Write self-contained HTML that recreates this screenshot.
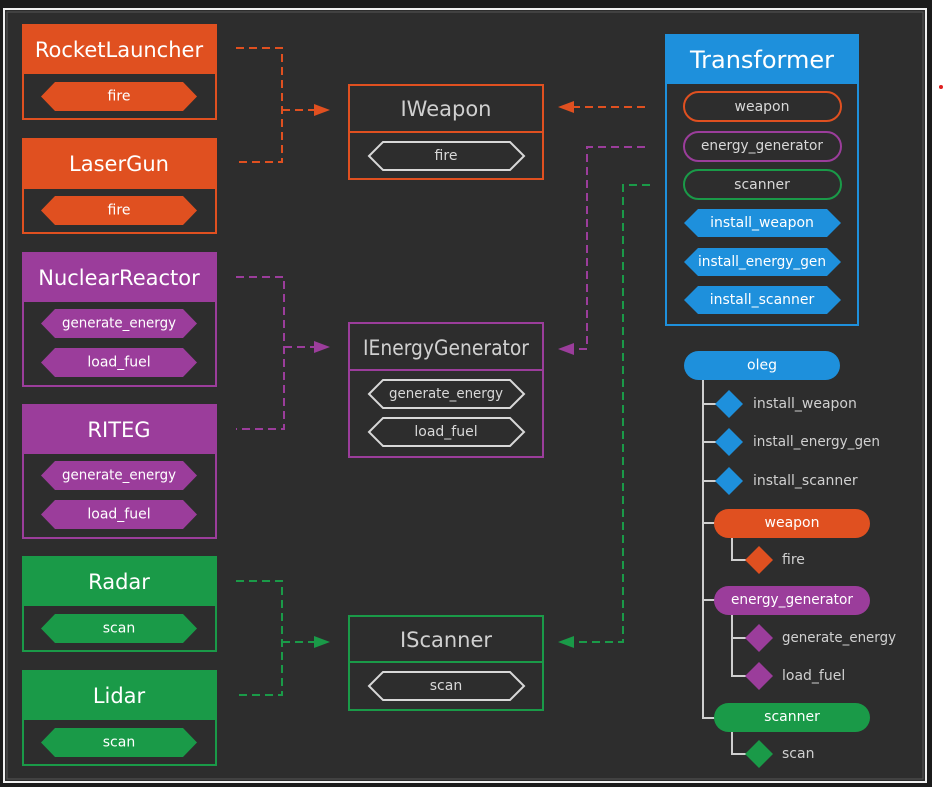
<!DOCTYPE html>
<html><head><meta charset="utf-8"><style>
html,body{margin:0;padding:0;background:#1b1b1b;width:944px;height:787px;overflow:hidden}
svg{display:block}
text{font-family:"DejaVu Sans","Liberation Sans",sans-serif;text-anchor:middle;dominant-baseline:central}
.s{text-anchor:start}
</style></head><body>
<svg width="944" height="787" viewBox="0 0 944 787" xmlns="http://www.w3.org/2000/svg">
<rect x="0" y="0" width="944" height="787" fill="#1b1b1b"/>
<rect x="932" y="0" width="12" height="787" fill="#ffffff"/>
<circle cx="941" cy="87" r="2" fill="#e02020"/>
<rect x="4" y="9" width="922" height="773" fill="#2d2d2d" stroke="#f0f0f0" stroke-width="2"/>
<rect x="7" y="12" width="916" height="767" fill="none" stroke="#555" stroke-width="1"/>

<g fill="none" stroke-width="2" stroke-dasharray="8,5">
<path d="M236 48 H282 V162 H236 M282 110 H318" stroke="#e05020"/>
<path d="M236 277 H284 V429 H236 M284 347 H318" stroke="#9b3d9b"/>
<path d="M236 581 H282 V695 H236 M282 642 H318" stroke="#1a9a48"/>
<path d="M645 107 H572" stroke="#e05020"/>
<path d="M645 147 H587 V349 H572" stroke="#9b3d9b"/>
<path d="M650 185 H623 V642 H572" stroke="#1a9a48"/>
</g>
<polygon points="330,110 314,104 314,116" fill="#e05020"/>
<polygon points="330,347 314,341 314,353" fill="#9b3d9b"/>
<polygon points="330,642 314,636 314,648" fill="#1a9a48"/>
<polygon points="558,107 574,101 574,113" fill="#e05020"/>
<polygon points="558,349 574,343 574,355" fill="#9b3d9b"/>
<polygon points="558,642 574,636 574,648" fill="#1a9a48"/>

<g font-size="21">
<rect x="23" y="25" width="193" height="94" fill="#2d2d2d" stroke="#e05020" stroke-width="2"/>
<rect x="23" y="25" width="193" height="49" fill="#e05020"/>
<text x="119" y="50" fill="#fff">RocketLauncher</text>
<polygon points="41,96.5 55,82 183,82 197,96.5 183,111 55,111" fill="#e05020"/>
<text x="119" y="96.5" font-size="14" fill="#fff">fire</text>
<rect x="23" y="139" width="193" height="94" fill="#2d2d2d" stroke="#e05020" stroke-width="2"/>
<rect x="23" y="139" width="193" height="50" fill="#e05020"/>
<text x="119" y="164" fill="#fff">LaserGun</text>
<polygon points="41,210.5 55,196 183,196 197,210.5 183,225 55,225" fill="#e05020"/>
<text x="119" y="210.5" font-size="14" fill="#fff">fire</text>
<rect x="23" y="253" width="193" height="133" fill="#2d2d2d" stroke="#9b3d9b" stroke-width="2"/>
<rect x="23" y="253" width="193" height="49" fill="#9b3d9b"/>
<text x="119" y="278" fill="#fff">NuclearReactor</text>
<polygon points="41,323.5 55,309 183,309 197,323.5 183,338 55,338" fill="#9b3d9b"/>
<text x="119" y="323.5" font-size="14" fill="#fff" textLength="114" lengthAdjust="spacingAndGlyphs">generate_energy</text>
<polygon points="41,362.5 55,348 183,348 197,362.5 183,377 55,377" fill="#9b3d9b"/>
<text x="119" y="362.5" font-size="14" fill="#fff">load_fuel</text>
<rect x="23" y="405" width="193" height="133" fill="#2d2d2d" stroke="#9b3d9b" stroke-width="2"/>
<rect x="23" y="405" width="193" height="49" fill="#9b3d9b"/>
<text x="119" y="430" fill="#fff">RITEG</text>
<polygon points="41,475.5 55,461 183,461 197,475.5 183,490 55,490" fill="#9b3d9b"/>
<text x="119" y="475.5" font-size="14" fill="#fff" textLength="114" lengthAdjust="spacingAndGlyphs">generate_energy</text>
<polygon points="41,514.5 55,500 183,500 197,514.5 183,529 55,529" fill="#9b3d9b"/>
<text x="119" y="514.5" font-size="14" fill="#fff">load_fuel</text>
<rect x="23" y="557" width="193" height="94" fill="#2d2d2d" stroke="#1a9a48" stroke-width="2"/>
<rect x="23" y="557" width="193" height="49" fill="#1a9a48"/>
<text x="119" y="582" fill="#fff">Radar</text>
<polygon points="41,628.5 55,614 183,614 197,628.5 183,643 55,643" fill="#1a9a48"/>
<text x="119" y="628.5" font-size="14" fill="#fff">scan</text>
<rect x="23" y="671" width="193" height="94" fill="#2d2d2d" stroke="#1a9a48" stroke-width="2"/>
<rect x="23" y="671" width="193" height="49" fill="#1a9a48"/>
<text x="119" y="696" fill="#fff">Lidar</text>
<polygon points="41,742.5 55,728 183,728 197,742.5 183,757 55,757" fill="#1a9a48"/>
<text x="119" y="742.5" font-size="14" fill="#fff">scan</text>
</g>

<g font-size="21" fill="none">
<rect x="349" y="85" width="194" height="94" stroke="#e05020" stroke-width="2"/>
<line x1="349" y1="132" x2="543" y2="132" stroke="#e05020" stroke-width="2"/>
<text x="446" y="109" fill="#d0d0d0" stroke="none">IWeapon</text>
<polygon points="369,156 383,142 510,142 524,156 510,170 383,170" stroke="#d8d8d8" stroke-width="2"/>
<text x="446" y="156" font-size="14" fill="#d8d8d8" stroke="none">fire</text>

<rect x="349" y="323" width="194" height="134" stroke="#9b3d9b" stroke-width="2"/>
<line x1="349" y1="370" x2="543" y2="370" stroke="#9b3d9b" stroke-width="2"/>
<text x="446" y="348" fill="#d0d0d0" stroke="none" textLength="166" lengthAdjust="spacingAndGlyphs">IEnergyGenerator</text>
<polygon points="369,394 383,380 510,380 524,394 510,408 383,408" stroke="#d8d8d8" stroke-width="2"/>
<text x="446" y="394" font-size="14" fill="#d8d8d8" stroke="none" textLength="114" lengthAdjust="spacingAndGlyphs">generate_energy</text>
<polygon points="369,432 383,418 510,418 524,432 510,446 383,446" stroke="#d8d8d8" stroke-width="2"/>
<text x="446" y="432" font-size="14" fill="#d8d8d8" stroke="none">load_fuel</text>

<rect x="349" y="616" width="194" height="94" stroke="#1a9a48" stroke-width="2"/>
<line x1="349" y1="662" x2="543" y2="662" stroke="#1a9a48" stroke-width="2"/>
<text x="446" y="640" fill="#d0d0d0" stroke="none">IScanner</text>
<polygon points="369,686 383,672 510,672 524,686 510,700 383,700" stroke="#d8d8d8" stroke-width="2"/>
<text x="446" y="686" font-size="14" fill="#d8d8d8" stroke="none">scan</text>
</g>

<rect x="666" y="35" width="192" height="290" fill="#2d2d2d" stroke="#1e90dc" stroke-width="2"/>
<rect x="666" y="35" width="192" height="49" fill="#1e90dc"/>
<text x="762" y="60" font-size="24" fill="#fff">Transformer</text>
<g font-size="14">
<rect x="684" y="92" width="157" height="29" rx="14.5" fill="none" stroke="#e05020" stroke-width="2"/>
<text x="762" y="107" fill="#d8d8d8">weapon</text>
<rect x="684" y="132" width="157" height="29" rx="14.5" fill="none" stroke="#9b3d9b" stroke-width="2"/>
<text x="762" y="146" fill="#d8d8d8" textLength="122" lengthAdjust="spacingAndGlyphs">energy_generator</text>
<rect x="684" y="170" width="157" height="29" rx="14.5" fill="none" stroke="#1a9a48" stroke-width="2"/>
<text x="762" y="185" fill="#d8d8d8">scanner</text>
<polygon points="684,223 698,209 827,209 841,223 827,237 698,237" fill="#1e90dc"/>
<text x="762" y="223" fill="#fff">install_weapon</text>
<polygon points="684,262 698,248 827,248 841,262 827,276 698,276" fill="#1e90dc"/>
<text x="762" y="262" fill="#fff" textLength="128" lengthAdjust="spacingAndGlyphs">install_energy_gen</text>
<polygon points="684,300 698,286 827,286 841,300 827,314 698,314" fill="#1e90dc"/>
<text x="762" y="300" fill="#fff">install_scanner</text>
</g>

<g fill="none" stroke="#cfcfcf" stroke-width="2">
<path d="M703 380 V718 H716"/>
<path d="M703 404 H716 M703 442 H716 M703 481 H716 M703 523 H716 M703 600 H716"/>
<path d="M732 537 V560 H746"/>
<path d="M732 614 V676 H746 M732 638 H746"/>
<path d="M732 731 V754 H746"/>
</g>
<g font-size="14">
<rect x="684" y="351" width="156" height="29" rx="14.5" fill="#1e90dc"/>
<text x="762" y="365.5" fill="#fff">oleg</text>
<polygon points="729,390 743,404 729,418 715,404" fill="#1e90dc"/>
<text x="753" y="404" fill="#d0d0d0" class="s">install_weapon</text>
<polygon points="729,428 743,442 729,456 715,442" fill="#1e90dc"/>
<text x="753" y="442" fill="#d0d0d0" class="s" textLength="127" lengthAdjust="spacingAndGlyphs">install_energy_gen</text>
<polygon points="729,467 743,481 729,495 715,481" fill="#1e90dc"/>
<text x="753" y="481" fill="#d0d0d0" class="s">install_scanner</text>

<rect x="714" y="509" width="156" height="29" rx="14.5" fill="#e05020"/>
<text x="792" y="523" fill="#fff">weapon</text>
<polygon points="759,546 773,560 759,574 745,560" fill="#e05020"/>
<text x="782" y="560" fill="#d0d0d0" class="s">fire</text>

<rect x="714" y="586" width="156" height="29" rx="14.5" fill="#9b3d9b"/>
<text x="792" y="600" fill="#fff" textLength="122" lengthAdjust="spacingAndGlyphs">energy_generator</text>
<polygon points="759,624 773,638 759,652 745,638" fill="#9b3d9b"/>
<text x="782" y="638" fill="#d0d0d0" class="s" textLength="114" lengthAdjust="spacingAndGlyphs">generate_energy</text>
<polygon points="759,662 773,676 759,690 745,676" fill="#9b3d9b"/>
<text x="782" y="676" fill="#d0d0d0" class="s">load_fuel</text>

<rect x="714" y="703" width="156" height="29" rx="14.5" fill="#1a9a48"/>
<text x="792" y="717" fill="#fff">scanner</text>
<polygon points="759,740 773,754 759,768 745,754" fill="#1a9a48"/>
<text x="782" y="754" fill="#d0d0d0" class="s">scan</text>
</g>
</svg>
</body></html>
